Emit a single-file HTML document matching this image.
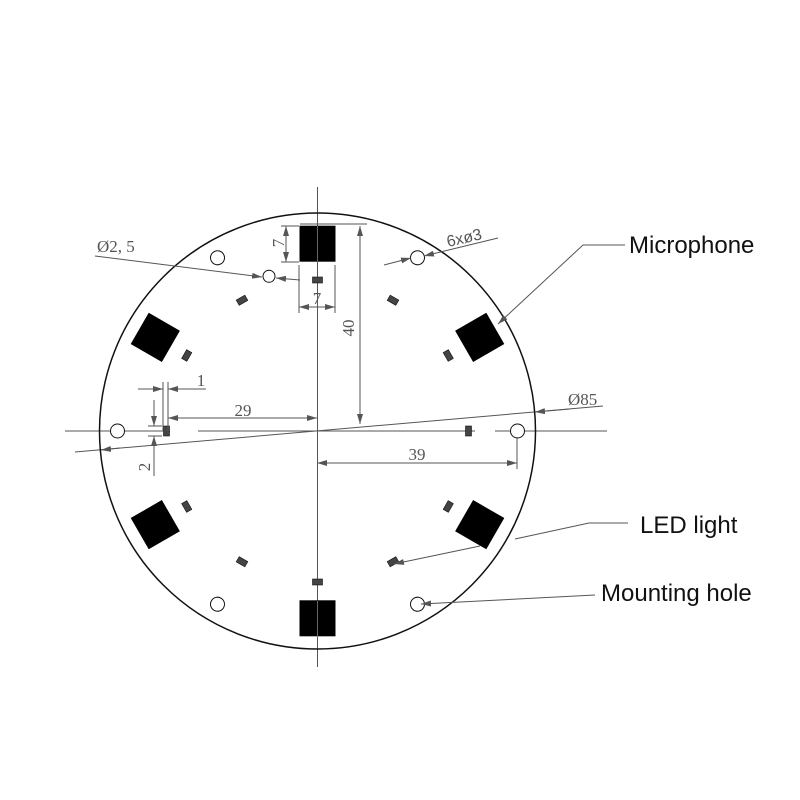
<!DOCTYPE html>
<html><head><style>html,body{margin:0;background:#fff}svg{display:block}</style></head>
<body>
<svg width="800" height="800" viewBox="0 0 800 800" xmlns="http://www.w3.org/2000/svg">
<defs>
<marker id="a" viewBox="0 0 10 6" refX="10" refY="3" markerWidth="10" markerHeight="6" orient="auto" markerUnits="userSpaceOnUse"><path d="M0,0L10,3L0,6z" fill="#555"/></marker>
<circle id="hole" cx="317.5" cy="231" r="7"/>
</defs>
<g stroke="#555" stroke-width="1" fill="none">
<line x1="317.5" y1="187" x2="317.5" y2="667"/>
<line x1="65" y1="431" x2="170" y2="431"/>
<line x1="198" y1="431" x2="475" y2="431"/>
<line x1="495" y1="431" x2="607" y2="431"/>
<line x1="75" y1="452" x2="603" y2="406"/>
</g>
<circle cx="317.5" cy="431" r="218" fill="none" stroke="#111" stroke-width="1.5"/>
<g fill="#000">
<g id="sq"><rect x="299.5" y="225.7" width="36" height="36"/></g>
<use href="#sq" transform="rotate(60 317.5 431)"/>
<use href="#sq" transform="rotate(120 317.5 431)"/>
<use href="#sq" transform="rotate(180 317.5 431)"/>
<use href="#sq" transform="rotate(240 317.5 431)"/>
<use href="#sq" transform="rotate(300 317.5 431)"/>
</g>
<line x1="317.5" y1="226" x2="317.5" y2="262" stroke="#666"/>
<line x1="317.5" y1="601" x2="317.5" y2="637" stroke="#666"/>
<g fill="#444" stroke="#111" stroke-width="0.6">
<g id="led"><rect x="312.5" y="277" width="10" height="6"/></g>
<use href="#led" transform="rotate(30 317.5 431)"/>
<use href="#led" transform="rotate(60 317.5 431)"/>
<use href="#led" transform="rotate(90 317.5 431)"/>
<use href="#led" transform="rotate(120 317.5 431)"/>
<use href="#led" transform="rotate(150 317.5 431)"/>
<use href="#led" transform="rotate(180 317.5 431)"/>
<use href="#led" transform="rotate(210 317.5 431)"/>
<use href="#led" transform="rotate(240 317.5 431)"/>
<use href="#led" transform="rotate(270 317.5 431)"/>
<use href="#led" transform="rotate(300 317.5 431)"/>
<use href="#led" transform="rotate(330 317.5 431)"/>
</g>
<g fill="#fff" stroke="#111" stroke-width="1">
<use href="#hole" transform="rotate(30 317.5 431)"/>
<use href="#hole" transform="rotate(90 317.5 431)"/>
<use href="#hole" transform="rotate(150 317.5 431)"/>
<use href="#hole" transform="rotate(210 317.5 431)"/>
<use href="#hole" transform="rotate(270 317.5 431)"/>
<use href="#hole" transform="rotate(330 317.5 431)"/>
<circle cx="269" cy="276.3" r="6"/>
</g>
<g stroke="#555" stroke-width="1" fill="none">
<line x1="300" y1="224" x2="367" y2="224"/>
<line x1="360" y1="231" x2="360" y2="424" marker-end="url(#a)"/>
<line x1="360" y1="424" x2="360" y2="226" marker-end="url(#a)"/>
<line x1="281" y1="226" x2="299" y2="226"/><line x1="281" y1="262" x2="299" y2="262"/>
<line x1="286" y1="244" x2="286" y2="226" marker-end="url(#a)"/>
<line x1="286" y1="244" x2="286" y2="262" marker-end="url(#a)"/>
<line x1="299" y1="265" x2="299" y2="313"/><line x1="335" y1="265" x2="335" y2="313"/>
<line x1="317" y1="307" x2="299" y2="307" marker-end="url(#a)"/>
<line x1="317" y1="307" x2="335" y2="307" marker-end="url(#a)"/>
<line x1="95" y1="256" x2="262" y2="277" marker-end="url(#a)"/>
<line x1="300" y1="280" x2="276" y2="278" marker-end="url(#a)"/>
<line x1="384" y1="265" x2="411" y2="258" marker-end="url(#a)"/>
<line x1="498" y1="238" x2="424" y2="256" marker-end="url(#a)"/>
<line x1="163" y1="382" x2="163" y2="431"/><line x1="168" y1="382" x2="168" y2="431"/>
<line x1="138" y1="389" x2="163" y2="389" marker-end="url(#a)"/>
<line x1="206" y1="389" x2="168" y2="389" marker-end="url(#a)"/>
<line x1="240" y1="418" x2="168" y2="418" marker-end="url(#a)"/>
<line x1="240" y1="418" x2="317" y2="418" marker-end="url(#a)"/>
<line x1="148" y1="426" x2="162" y2="426"/><line x1="148" y1="436" x2="162" y2="436"/>
<line x1="154" y1="400" x2="154" y2="426" marker-end="url(#a)"/>
<line x1="154" y1="476" x2="154" y2="436" marker-end="url(#a)"/>
<line x1="517" y1="437" x2="517" y2="469"/>
<line x1="417" y1="463" x2="317" y2="463" marker-end="url(#a)"/>
<line x1="417" y1="463" x2="517" y2="463" marker-end="url(#a)"/>
<line x1="570" y1="409" x2="535" y2="412" marker-end="url(#a)"/>
<line x1="120" y1="448" x2="101" y2="450" marker-end="url(#a)"/>
<polyline points="625,245 583,245 498,324" marker-end="url(#a)"/>
<polyline points="628,523 589,523 515,539"/>
<line x1="480" y1="546" x2="394" y2="564" marker-end="url(#a)"/>
<line x1="595" y1="595" x2="421" y2="604" marker-end="url(#a)"/>
</g>
<g font-family="Liberation Serif, serif" font-size="17" fill="#555">
<text x="97" y="252">Ø2, 5</text>
<text x="448" y="247" font-family="Liberation Sans, sans-serif" font-size="16" transform="rotate(-13 448 247)">6xø3</text>
<text x="317" y="304" text-anchor="middle">7</text>
<text x="280" y="243" text-anchor="middle" transform="rotate(-90 280 243)" dominant-baseline="middle">7</text>
<text x="350" y="328" text-anchor="middle" transform="rotate(-90 350 328)" dominant-baseline="middle">40</text>
<text x="201" y="386" text-anchor="middle">1</text>
<text x="243" y="416" text-anchor="middle">29</text>
<text x="146" y="467" text-anchor="middle" transform="rotate(-90 146 467)" dominant-baseline="middle">2</text>
<text x="417" y="460" text-anchor="middle">39</text>
<text x="568" y="405">Ø85</text>
</g>
<g font-family="Liberation Sans, sans-serif" font-size="24" fill="#111">
<text x="629" y="253">Microphone</text>
<text x="640" y="533">LED light</text>
<text x="601" y="601">Mounting hole</text>
</g>
</svg>
</body></html>
